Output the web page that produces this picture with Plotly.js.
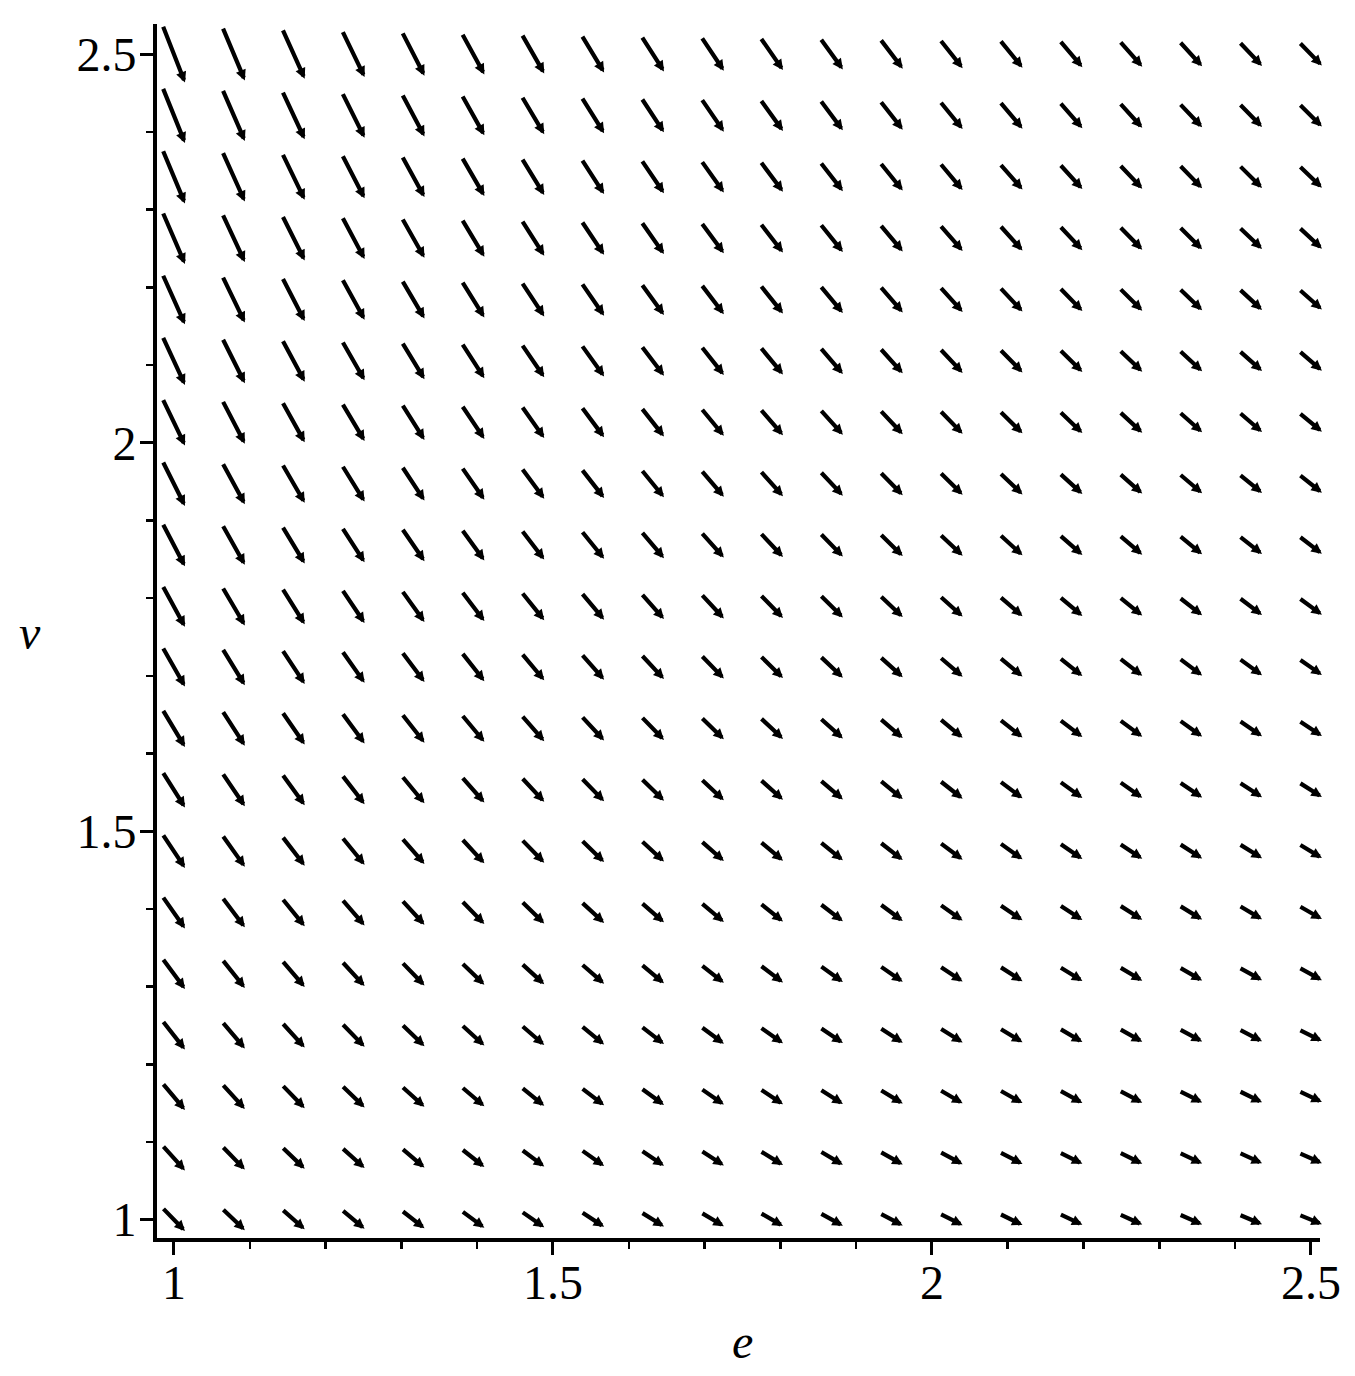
<!DOCTYPE html>
<html>
<head>
<meta charset="utf-8">
<script src="https://cdn.plot.ly/plotly-3.0.1.min.js"></script>
<style>html,body{margin:0;padding:0;background:#fff}</style>
</head>
<body>
<div id="plot" style="width:1355px;height:1376px"></div>
<script>
// grid of the direction field
const eValues = [1, 1.079, 1.158, 1.237, 1.316, 1.395, 1.474, 1.553, 1.632, 1.711,
                 1.789, 1.868, 1.947, 2.026, 2.105, 2.184, 2.263, 2.342, 2.421, 2.5];
const vValues = [1, 1.079, 1.158, 1.237, 1.316, 1.395, 1.474, 1.553, 1.632, 1.711,
                 1.789, 1.868, 1.947, 2.026, 2.105, 2.184, 2.263, 2.342, 2.421, 2.5];

// downward slope (-dv/de) of each arrow, one row per v value, bottom row first
const slopeRows = [
  [1.00, 0.93, 0.86, 0.81, 0.76, 0.72, 0.68, 0.64, 0.61, 0.58, 0.56, 0.54, 0.51, 0.49, 0.48, 0.46, 0.44, 0.43, 0.41, 0.40],
  [1.08, 1.00, 0.93, 0.87, 0.82, 0.77, 0.73, 0.69, 0.66, 0.63, 0.60, 0.58, 0.55, 0.53, 0.51, 0.49, 0.48, 0.46, 0.45, 0.43],
  [1.16, 1.07, 1.00, 0.94, 0.88, 0.83, 0.79, 0.75, 0.71, 0.68, 0.65, 0.62, 0.59, 0.57, 0.55, 0.53, 0.51, 0.49, 0.48, 0.46],
  [1.24, 1.15, 1.07, 1.00, 0.94, 0.89, 0.84, 0.80, 0.76, 0.72, 0.69, 0.66, 0.64, 0.61, 0.59, 0.57, 0.55, 0.53, 0.51, 0.49],
  [1.32, 1.22, 1.14, 1.06, 1.00, 0.94, 0.89, 0.85, 0.81, 0.77, 0.74, 0.70, 0.68, 0.65, 0.63, 0.60, 0.58, 0.56, 0.54, 0.53],
  [1.39, 1.29, 1.20, 1.13, 1.06, 1.00, 0.95, 0.90, 0.85, 0.82, 0.78, 0.75, 0.72, 0.69, 0.66, 0.64, 0.62, 0.60, 0.58, 0.56],
  [1.47, 1.37, 1.27, 1.19, 1.12, 1.06, 1.00, 0.95, 0.90, 0.86, 0.82, 0.79, 0.76, 0.73, 0.70, 0.67, 0.65, 0.63, 0.61, 0.59],
  [1.55, 1.44, 1.34, 1.26, 1.18, 1.11, 1.05, 1.00, 0.95, 0.91, 0.87, 0.83, 0.80, 0.77, 0.74, 0.71, 0.69, 0.66, 0.64, 0.62],
  [1.63, 1.51, 1.41, 1.32, 1.24, 1.17, 1.11, 1.05, 1.00, 0.95, 0.91, 0.87, 0.84, 0.81, 0.78, 0.75, 0.72, 0.70, 0.67, 0.65],
  [1.71, 1.59, 1.48, 1.38, 1.30, 1.23, 1.16, 1.10, 1.05, 1.00, 0.96, 0.92, 0.88, 0.84, 0.81, 0.78, 0.76, 0.73, 0.71, 0.68],
  [1.79, 1.66, 1.55, 1.45, 1.36, 1.28, 1.21, 1.15, 1.10, 1.05, 1.00, 0.96, 0.92, 0.88, 0.85, 0.82, 0.79, 0.76, 0.74, 0.72],
  [1.87, 1.73, 1.61, 1.51, 1.42, 1.34, 1.27, 1.20, 1.15, 1.09, 1.04, 1.00, 0.96, 0.92, 0.89, 0.86, 0.83, 0.80, 0.77, 0.75],
  [1.95, 1.80, 1.68, 1.57, 1.48, 1.40, 1.32, 1.25, 1.19, 1.14, 1.09, 1.04, 1.00, 0.96, 0.93, 0.89, 0.86, 0.83, 0.80, 0.78],
  [2.03, 1.88, 1.75, 1.64, 1.54, 1.45, 1.38, 1.31, 1.24, 1.18, 1.13, 1.08, 1.04, 1.00, 0.96, 0.93, 0.90, 0.87, 0.84, 0.81],
  [2.11, 1.95, 1.82, 1.70, 1.60, 1.51, 1.43, 1.36, 1.29, 1.23, 1.18, 1.13, 1.08, 1.04, 1.00, 0.96, 0.93, 0.90, 0.87, 0.84],
  [2.18, 2.02, 1.89, 1.77, 1.66, 1.57, 1.48, 1.41, 1.34, 1.28, 1.22, 1.17, 1.12, 1.08, 1.04, 1.00, 0.97, 0.93, 0.90, 0.87],
  [2.26, 2.10, 1.95, 1.83, 1.72, 1.62, 1.54, 1.46, 1.39, 1.32, 1.26, 1.21, 1.16, 1.12, 1.08, 1.04, 1.00, 0.97, 0.93, 0.91],
  [2.34, 2.17, 2.02, 1.89, 1.78, 1.68, 1.59, 1.51, 1.44, 1.37, 1.31, 1.25, 1.20, 1.16, 1.11, 1.07, 1.03, 1.00, 0.97, 0.94],
  [2.42, 2.24, 2.09, 1.96, 1.84, 1.74, 1.64, 1.56, 1.48, 1.42, 1.35, 1.30, 1.24, 1.19, 1.15, 1.11, 1.07, 1.03, 1.00, 0.97],
  [2.50, 2.32, 2.16, 2.02, 1.90, 1.79, 1.70, 1.61, 1.53, 1.46, 1.40, 1.34, 1.28, 1.23, 1.19, 1.14, 1.10, 1.07, 1.03, 1.00]
];

const tickValsE = [1, 1.5, 2, 2.5];
const tickValsV = [1, 1.5, 2, 2.5];

const serif = '"Liberation Serif", "Times New Roman", serif';
const span = 0.029; // horizontal extent of each arrow, in e units

const annotations = [];
vValues.forEach((v, j) => {
  eValues.forEach((e, i) => {
    const s = slopeRows[j][i];
    annotations.push({
      x: e + span / 2, y: v - s * span / 2,
      ax: e - span / 2, ay: v + s * span / 2,
      xref: 'x', yref: 'y', axref: 'x', ayref: 'y',
      text: '', showarrow: true,
      arrowhead: 2, arrowsize: 0.5, arrowwidth: 4.2, arrowcolor: '#000',
      standoff: 0, startstandoff: 0, borderpad: 0,
      font: { size: 1 }
    });
  });
});

annotations.push({
  text: '<i>e</i>', xref: 'paper', yref: 'paper', x: 0.5037, y: -0.085,
  xanchor: 'center', yanchor: 'middle', showarrow: false,
  font: { family: serif, size: 48, color: '#000' }
});
annotations.push({
  text: '<i>v</i>', xref: 'paper', yref: 'paper', x: -0.1095, y: 0.4985,
  xanchor: 'center', yanchor: 'middle', showarrow: false,
  font: { family: serif, size: 48, color: '#000' }
});

const axisStyle = {
  showline: true, linewidth: 4, linecolor: '#000',
  showgrid: false, zeroline: false,
  ticks: 'outside', ticklen: 13, tickwidth: 3, tickcolor: '#000',
  tickfont: { family: serif, size: 48, color: '#000' },
  minor: { ticks: 'outside', ticklen: 7, tickwidth: 2.5, tickcolor: '#000', dtick: 0.1, tick0: 1, showgrid: false }
};

const layout = {
  width: 1355, height: 1376,
  margin: { l: 157, r: 35, t: 24, b: 138 },
  paper_bgcolor: '#fff', plot_bgcolor: '#fff',
  showlegend: false,
  xaxis: Object.assign({}, axisStyle, {
    range: [0.9776, 2.512], tickmode: 'array', tickvals: tickValsE,
    ticklabelstandoff: -14
  }),
  yaxis: Object.assign({}, axisStyle, {
    range: [0.9764, 2.539], tickmode: 'array', tickvals: tickValsV,
    ticklabelstandoff: -6
  }),
  annotations: annotations
};

Plotly.newPlot('plot', [{ x: [], y: [], type: 'scatter', mode: 'markers', hoverinfo: 'skip' }], layout, { staticPlot: true });
</script>
</body>
</html>
